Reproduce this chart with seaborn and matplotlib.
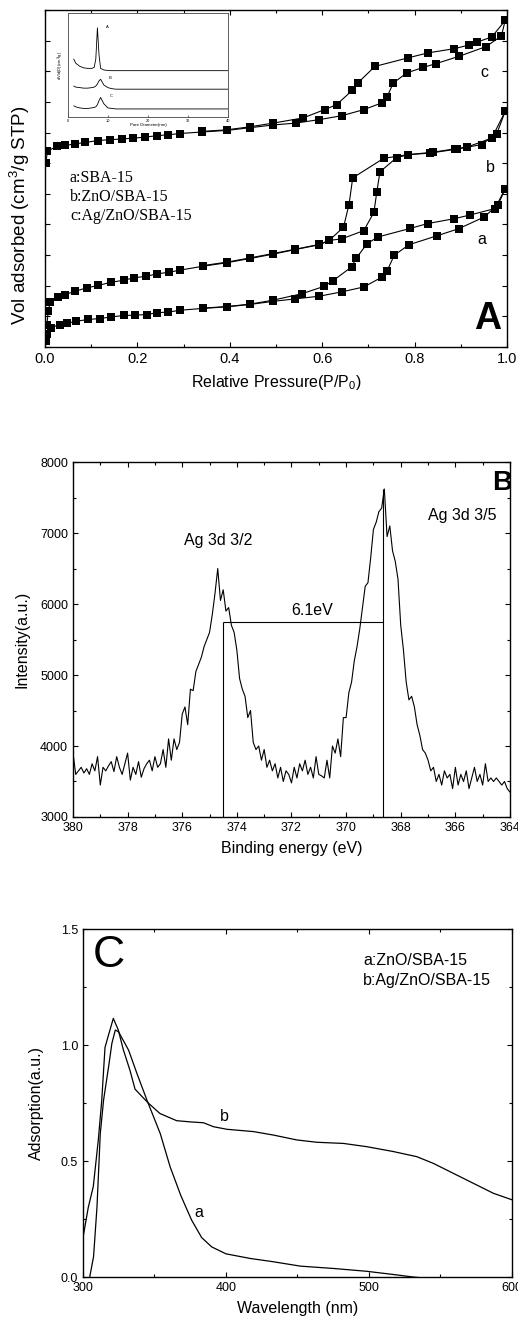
import matplotlib
matplotlib.use("Agg")
import matplotlib.pyplot as plt
import numpy as np
import seaborn as sns
from matplotlib.ticker import MultipleLocator, NullFormatter

# ---- panel A: N2 isotherms (arbitrary offset units) ----
p_ads_a = [0.002, 0.005, 0.012, 0.032, 0.047, 0.067, 0.094, 0.119, 0.142, 0.170, 0.195, 0.220, 0.242, 0.267,
           0.292, 0.341, 0.393, 0.444, 0.493, 0.541, 0.594, 0.642, 0.690, 0.729, 0.740, 0.756, 0.788, 0.848,
           0.895, 0.950, 0.981, 0.996]
v_ads_a = [0.19, 0.41, 0.63, 0.73, 0.77, 0.84, 0.90, 0.93, 0.98, 1.03, 1.04, 1.06, 1.12, 1.14,
           1.20, 1.26, 1.31, 1.39, 1.49, 1.57, 1.66, 1.80, 1.96, 2.28, 2.47, 3.00, 3.34, 3.63,
           3.86, 4.24, 4.65, 5.17]
p_des_a = [0.996, 0.974, 0.920, 0.886, 0.828, 0.790, 0.720, 0.697, 0.673, 0.664, 0.623, 0.604, 0.556,
           0.494, 0.444, 0.393, 0.341]
v_des_a = [5.17, 4.52, 4.31, 4.19, 4.03, 3.87, 3.59, 3.37, 2.89, 2.62, 2.16, 1.98, 1.74,
           1.53, 1.40, 1.32, 1.27]

p_ads_b = [0.004, 0.007, 0.011, 0.029, 0.043, 0.065, 0.090, 0.115, 0.142, 0.170, 0.193, 0.219, 0.243, 0.268,
           0.292, 0.343, 0.393, 0.444, 0.493, 0.541, 0.594, 0.615, 0.642, 0.690, 0.712, 0.718, 0.725, 0.761,
           0.786, 0.833, 0.891, 0.945, 0.978, 0.996]
v_ads_b = [0.73, 1.17, 1.46, 1.64, 1.71, 1.82, 1.93, 2.01, 2.11, 2.18, 2.26, 2.31, 2.39, 2.44,
           2.51, 2.64, 2.75, 2.89, 3.03, 3.18, 3.34, 3.48, 3.53, 3.80, 4.40, 5.05, 5.72, 6.18,
           6.28, 6.33, 6.46, 6.61, 6.97, 7.69]
p_des_b = [0.996, 0.967, 0.914, 0.887, 0.840, 0.786, 0.733, 0.666, 0.658, 0.646, 0.615, 0.594, 0.541,
           0.493, 0.444, 0.393, 0.343]
v_des_b = [7.69, 6.82, 6.53, 6.47, 6.36, 6.28, 6.16, 5.52, 4.65, 3.91, 3.48, 3.35, 3.19,
           3.05, 2.91, 2.77, 2.66]

p_ads_c = [0.002, 0.005, 0.025, 0.043, 0.065, 0.087, 0.115, 0.141, 0.166, 0.191, 0.216, 0.242, 0.267,
           0.292, 0.340, 0.393, 0.444, 0.494, 0.543, 0.592, 0.642, 0.690, 0.729, 0.740, 0.754, 0.783,
           0.819, 0.846, 0.896, 0.955, 0.988, 0.996]
v_ads_c = [6.00, 6.39, 6.55, 6.58, 6.63, 6.68, 6.74, 6.77, 6.79, 6.82, 6.85, 6.90, 6.93,
           6.97, 7.02, 7.07, 7.16, 7.25, 7.31, 7.42, 7.55, 7.75, 7.97, 8.16, 8.62, 8.95,
           9.13, 9.25, 9.49, 9.81, 10.16, 10.66]
p_des_c = [0.996, 0.967, 0.936, 0.918, 0.886, 0.828, 0.786, 0.714, 0.677, 0.665, 0.631, 0.605, 0.559,
           0.494, 0.444, 0.393, 0.340]
v_des_c = [10.66, 10.12, 9.96, 9.86, 9.74, 9.60, 9.44, 9.16, 8.62, 8.38, 7.91, 7.75, 7.48,
           7.31, 7.19, 7.09, 7.04]

# inset: pore size distribution
pore_d = [1.5, 2, 3, 4, 5, 6, 6.6, 7.0, 7.4, 7.8, 8.2, 9, 10, 11, 12, 15, 20, 30, 40]
psd_A = [0.56, 0.52, 0.49, 0.475, 0.47, 0.47, 0.48, 0.56, 0.86, 0.60, 0.47, 0.455, 0.45, 0.448, 0.448,
         0.448, 0.448, 0.448, 0.448]
psd_B = [0.30, 0.29, 0.285, 0.28, 0.28, 0.285, 0.29, 0.30, 0.32, 0.35, 0.365, 0.31, 0.285, 0.275, 0.27,
         0.27, 0.27, 0.27, 0.27]
psd_C = [0.11, 0.10, 0.09, 0.085, 0.085, 0.09, 0.095, 0.10, 0.12, 0.16, 0.19, 0.13, 0.09, 0.085, 0.08,
         0.08, 0.08, 0.08, 0.08]

# ---- panel B: Ag 3d XPS ----
be_ev = np.linspace(380, 364, 161)
xps_counts = [
    3900, 3600, 3650, 3700, 3620, 3680, 3600, 3750, 3650, 3850,
    3450, 3700, 3650, 3720, 3780, 3640, 3850, 3700, 3600, 3750,
    3900, 3520, 3700, 3600, 3780, 3560, 3680, 3750, 3800, 3650,
    3850, 3700, 3750, 3950, 3700, 4100, 3800, 4100, 3950, 4050,
    4450, 4550, 4300, 4800, 4780, 5050, 5150, 5250, 5400, 5500,
    5600, 5850, 6150, 6500, 6050, 6200, 5900, 5950, 5700, 5600,
    5350, 4950, 4800, 4700, 4400, 4500, 4050, 3950, 4000, 3800,
    3950, 3700, 3800, 3650, 3750, 3550, 3700, 3500, 3650, 3600,
    3480, 3700, 3550, 3750, 3650, 3800, 3600, 3700, 3550, 3850,
    3600, 3580, 3550, 3800, 3550, 4000, 3900, 4100, 3850, 4400,
    4400, 4750, 4900, 5200, 5400, 5650, 5950, 6250, 6300, 6650,
    7050, 7150, 7300, 7350, 7620, 6950, 7100, 6750, 6600, 6350,
    5700, 5350, 4900, 4650, 4700, 4550, 4300, 4150, 3950, 3900,
    3800, 3650, 3700, 3500, 3600, 3450, 3650, 3550, 3600, 3400,
    3700, 3450, 3600, 3500, 3650, 3400, 3550, 3700, 3500, 3600,
    3450, 3750, 3500, 3550, 3500, 3550, 3500, 3450, 3500, 3400,
    3350]
peak_pos = [374.5, 368.66]
split_level = 5740

# ---- panel C: UV-vis ----
lam_a = [304.7, 307.4, 309.8, 312.1, 314.4, 317.9, 320.2, 322.6, 324.9, 331.9, 337.7, 344.7, 354, 361,
         368.5, 376, 383, 390, 400, 417, 433, 452, 475, 498, 517, 531, 545]
abs_a = [0.0, 0.088, 0.303, 0.619, 0.763, 0.906, 1.007, 1.065, 1.057, 0.978, 0.878, 0.763, 0.619, 0.474,
         0.35, 0.245, 0.17, 0.13, 0.10, 0.08, 0.066, 0.047, 0.037, 0.025, 0.011, 0.0, -0.008]
lam_b = [300, 303.7, 307.2, 310.7, 313.1, 315.4, 317.7, 321.2, 324.7, 328.2, 332.9, 336.4, 341, 345.7,
         353.8, 365.5, 374.8, 384.3, 391.3, 400.6, 419.2, 433.2, 449.5, 463.5, 482.1, 498.4, 517, 533.4,
         545, 559, 573, 587, 600]
abs_b = [0.17, 0.30, 0.39, 0.59, 0.76, 0.99, 1.04, 1.115, 1.065, 0.98, 0.89, 0.81, 0.78, 0.75,
         0.705, 0.674, 0.669, 0.665, 0.648, 0.637, 0.627, 0.612, 0.591, 0.581, 0.576, 0.562, 0.541, 0.519,
         0.49, 0.447, 0.404, 0.361, 0.333]

sns.set_style("ticks")
plt.rcParams["font.family"] = ["Liberation Sans", "DejaVu Sans"]
plt.rcParams["mathtext.fontset"] = "custom"
plt.rcParams["mathtext.rm"] = "Liberation Sans"
plt.rcParams["axes.linewidth"] = 1.0
for key in ["text.color", "axes.labelcolor", "xtick.color", "ytick.color", "axes.edgecolor"]:
    plt.rcParams[key] = "black"


def style_axes(ax, size):
    ax.tick_params(which="both", direction="in", top=True, right=True, labelsize=size, width=0.8,
                   colors="black")
    ax.tick_params(which="major", length=3.5)
    ax.tick_params(which="minor", length=2.5)
    for s in ax.spines.values():
        s.set_color("black")


def isotherm(ax, p, v):
    sns.lineplot(x=p, y=v, sort=False, estimator=None, color="black", lw=0.8, marker="s",
                 markersize=5.5, markeredgewidth=0, ax=ax)


fig = plt.figure(figsize=(5.18, 13.25), dpi=100)
axA = fig.add_axes([0.0869, 0.7381, 0.8919, 0.2543])
axB = fig.add_axes([0.1409, 0.3834, 0.8436, 0.2679])
axC = fig.add_axes([0.1602, 0.0362, 0.8282, 0.2626])
axI = fig.add_axes([0.1307, 0.9115, 0.31, 0.0785])

# panel A
for p, v in [(p_ads_a, v_ads_a), (p_des_a, v_des_a), (p_ads_b, v_ads_b), (p_des_b, v_des_b),
             (p_ads_c, v_ads_c), (p_des_c, v_des_c)]:
    isotherm(axA, p, v)
axA.set_xlim(0, 1.0)
axA.set_ylim(0, 11)
axA.xaxis.set_major_locator(MultipleLocator(0.2))
axA.xaxis.set_minor_locator(MultipleLocator(0.1))
axA.yaxis.set_major_locator(MultipleLocator(1))
axA.yaxis.set_major_formatter(NullFormatter())
style_axes(axA, 10.5)
axA.set_xlabel("Relative Pressure(P/P$_0$)", fontsize=11.5, labelpad=5)
axA.set_ylabel("Vol adsorbed (cm$^3$/g STP)", fontsize=13.5)
axA.yaxis.set_label_coords(-0.028, 0.39)
serif = ["Liberation Serif", "DejaVu Serif"]
axA.text(0.054, 5.53, "a:SBA-15", family=serif, fontsize=11.5, va="center")
axA.text(0.054, 4.90, "b:ZnO/SBA-15", family=serif, fontsize=11.5, va="center")
axA.text(0.054, 4.27, "c:Ag/ZnO/SBA-15", family=serif, fontsize=11.5, va="center")
axA.text(0.952, 8.96, "c", fontsize=11.5, ha="center", va="center")
axA.text(0.963, 5.86, "b", fontsize=11.5, ha="center", va="center")
axA.text(0.946, 3.51, "a", fontsize=11.5, ha="center", va="center")
axA.text(0.959, 0.9, "A", fontsize=27, fontweight="bold", ha="center", va="center")

# inset
for y in [psd_A, psd_B, psd_C]:
    sns.lineplot(x=pore_d, y=y, sort=False, estimator=None, color="black", lw=0.6, ax=axI)
axI.text(9.5, 0.87, "A", fontsize=3, va="center")
axI.text(10.2, 0.38, "B", fontsize=3, va="center")
axI.text(10.5, 0.20, "C", fontsize=3, va="center")
axI.set_xlim(0, 40)
axI.set_ylim(0, 1)
axI.set_xticks([0, 10, 20, 30, 40])
axI.set_yticks([])
axI.tick_params(direction="in", labelsize=2.8, length=1.2, width=0.4, pad=1)
axI.set_xlabel("Pore Diameter(nm)", fontsize=3.2, labelpad=0.5)
axI.set_ylabel("dV/d(D)(cm$^3$/g)", fontsize=3, labelpad=1)
for s in axI.spines.values():
    s.set_linewidth(0.6)
    s.set_color("#444444")

# panel B
sns.lineplot(x=be_ev, y=xps_counts, sort=False, estimator=None, color="black", lw=0.8, ax=axB)
axB.vlines(peak_pos, 3000, [split_level, 7620], color="black", lw=0.8)
axB.hlines(split_level, peak_pos[0], peak_pos[1], color="black", lw=0.8)
axB.set_xlim(380, 364)
axB.set_ylim(3000, 8000)
axB.xaxis.set_major_locator(MultipleLocator(2))
axB.xaxis.set_minor_locator(MultipleLocator(1))
axB.yaxis.set_major_locator(MultipleLocator(1000))
axB.yaxis.set_minor_locator(MultipleLocator(500))
style_axes(axB, 9)
axB.set_xlabel("Binding energy (eV)", fontsize=11.5, labelpad=5)
axB.set_ylabel("Intensity(a.u.)", fontsize=11.5, labelpad=8)
axB.text(374.69, 6900, "Ag 3d 3/2", fontsize=11.5, ha="center", va="center")
axB.text(365.76, 7240, "Ag 3d 3/5", fontsize=11.5, ha="center", va="center")
axB.text(371.25, 5915, "6.1eV", fontsize=11.5, ha="center", va="center")
axB.text(364.66, 7704, "B", fontsize=20, fontweight="bold", ha="left", va="center", clip_on=True)

# panel C
sns.lineplot(x=lam_a, y=abs_a, sort=False, estimator=None, color="black", lw=0.9, ax=axC)
sns.lineplot(x=lam_b, y=abs_b, sort=False, estimator=None, color="black", lw=0.9, ax=axC)
axC.set_xlim(300, 600)
axC.set_ylim(0, 1.5)
axC.xaxis.set_major_locator(MultipleLocator(100))
axC.xaxis.set_minor_locator(MultipleLocator(50))
axC.yaxis.set_major_locator(MultipleLocator(0.5))
axC.yaxis.set_minor_locator(MultipleLocator(0.25))
style_axes(axC, 9)
axC.set_xlabel("Wavelength (nm)", fontsize=11.5, labelpad=5)
axC.set_ylabel("Adsorption(a.u.)", fontsize=11.5, labelpad=12)
axC.text(318.2, 1.384, "C", fontsize=32, ha="center", va="center")
axC.text(495.8, 1.366, "a:ZnO/SBA-15", fontsize=11.5, va="center")
axC.text(495.8, 1.28, "b:Ag/ZnO/SBA-15", fontsize=11.5, va="center")
axC.text(398.6, 0.69, "b", fontsize=11.5, ha="center", va="center")
axC.text(381.1, 0.28, "a", fontsize=11.5, ha="center", va="center")

fig.savefig("out.png", dpi=100)
